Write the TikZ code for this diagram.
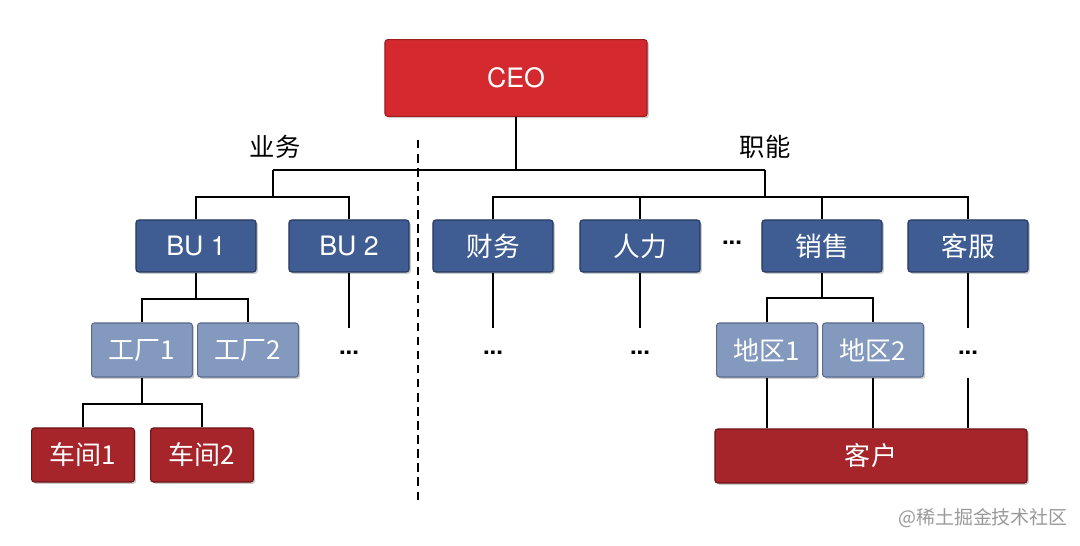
\documentclass[tikz,border=0pt]{standalone}
\usepackage{fontspec}
\usepackage{tikz}
\usetikzlibrary{shadows}
\setmainfont{TeX Gyre Heros}
\newfontfamily\cjk{Noto Sans CJK SC}

\definecolor{ceored}{HTML}{D42A2F}
\definecolor{ceoedge}{HTML}{9E1B1F}
\definecolor{unitblue}{HTML}{3F5D92}
\definecolor{unitedge}{HTML}{27395E}
\definecolor{subblue}{HTML}{8399BE}
\definecolor{subedge}{HTML}{5A6C8C}
\definecolor{shopred}{HTML}{A5252B}
\definecolor{shopedge}{HTML}{6E1519}

\tikzset{
  box/.style={rounded corners=2pt, text=white, line width=0.8pt,
    drop shadow={shadow xshift=1.3pt, shadow yshift=-1.3pt, opacity=0.4}},
  ceobox/.style={box, fill=ceored, draw=ceoedge, minimum width=6.55cm, minimum height=1.92cm,
    font=\fontsize{19}{21}\selectfont},
  unitbox/.style={box, fill=unitblue, draw=unitedge, minimum width=3cm, minimum height=1.3cm,
    font=\fontsize{19}{21}\selectfont},
  subbox/.style={box, fill=subblue, draw=subedge, minimum width=2.52cm, minimum height=1.35cm,
    font=\cjk\fontsize{18.5}{20}\selectfont},
  shopbox/.style={box, fill=shopred, draw=shopedge, minimum width=2.57cm, minimum height=1.35cm,
    font=\cjk\fontsize{18.5}{20}\selectfont},
  morenode/.style={inner sep=0pt, minimum height=1.25cm, font=\bfseries\fontsize{17}{20}\selectfont},
  sidelabel/.style={font=\cjk\fontsize{18}{20}\selectfont},
  wire/.style={line width=0.9pt}
}

\begin{document}
\begin{tikzpicture}[x=0.025cm, y=-0.025cm]
\useasboundingbox (0,0) rectangle (1080,546);

% CEO
\node[ceobox] (ceo) at (516,78) {CEO};

% labels and divider
\node[sidelabel] (biz) at (275,147) {业务};
\node[sidelabel] (fun) at (765,147) {职能};
\draw[wire, dash pattern=on 6pt off 4pt] (418,140) -- (418,500);

% top bus
\coordinate (topl) at (273,170);
\coordinate (topr) at (765,170);
\draw[wire] (ceo.south) -- (ceo.south |- topl);
\draw[wire] (topl) -- (topr);

% business units
\node[unitbox] (bu1) at (196,246) {BU 1};
\node[unitbox] (bu2) at (349,246) {BU 2};
\coordinate (bizbus) at (273,197);
\draw[wire] (topl) -- (bizbus);
\draw[wire] (bu1.north) |- (bu2.north |- bizbus) -- (bu2.north);

% functions
\node[unitbox] (fin) at (493,246) {\cjk 财务};
\node[unitbox] (hr) at (640,246) {\cjk 人力};
\node[morenode] (funmore) at (732,243) {...};
\node[unitbox] (sales) at (822,246) {\cjk 销售};
\node[unitbox] (svc) at (968,246) {\cjk 客服};
\coordinate (funbus) at (765,197);
\draw[wire] (topr) -- (funbus);
\draw[wire] (fin.north) |- (svc.north |- funbus) -- (svc.north);
\draw[wire] (hr.north) -- (hr.north |- funbus);
\draw[wire] (sales.north) -- (sales.north |- funbus);

% factories
\node[subbox] (fac1) at (142,350) {工厂1};
\node[subbox] (fac2) at (248,350) {工厂2};
\coordinate (facbus) at (196,299);
\draw[wire] (bu1.south) -- (bu1.south |- facbus);
\draw[wire] (fac1.north) |- (fac2.north |- facbus) -- (fac2.north);

% workshops
\node[shopbox] (shop1) at (83,455) {车间1};
\node[shopbox] (shop2) at (202,455) {车间2};
\coordinate (shopbus) at (142,404);
\draw[wire] (fac1.south) -- (fac1.south |- shopbus);
\draw[wire] (shop1.north) |- (shop2.north |- shopbus) -- (shop2.north);

% more below
\node[morenode] (bu2more) at (349,353) {...};
\node[morenode] (finmore) at (493,353) {...};
\node[morenode] (hrmore) at (640,353) {...};
\node[morenode] (svcmore) at (968,353) {...};
\draw[wire] (bu2) -- (bu2more);
\draw[wire] (fin) -- (finmore);
\draw[wire] (hr) -- (hrmore);
\draw[wire] (svc) -- (svcmore);

% regions
\node[subbox] (reg1) at (767,350) {地区1};
\node[subbox] (reg2) at (873,350) {地区2};
\coordinate (regbus) at (822,298);
\draw[wire] (sales.south) -- (sales.south |- regbus);
\draw[wire] (reg1.north) |- (reg2.north |- regbus) -- (reg2.north);

% customers
\node[shopbox, minimum width=7.8cm] (cust) at (871,456) {客户};
\draw[wire] (reg1) -- (reg1 |- cust.north);
\draw[wire] (reg2) -- (reg2 |- cust.north);
\draw[wire] (svcmore) -- (svcmore |- cust.north);

% watermark
\node[font=\cjk\fontsize{13.5}{15}\selectfont, text=black!40] (mark) at (983,518) {@稀土掘金技术社区};

\end{tikzpicture}
\end{document}
